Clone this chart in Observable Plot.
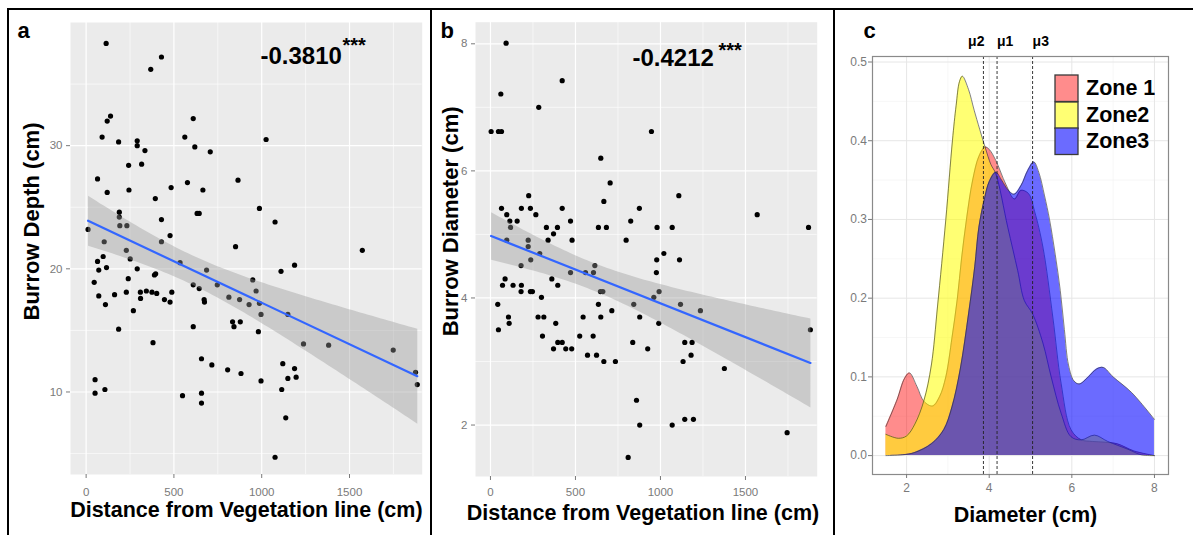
<!DOCTYPE html>
<html><head><meta charset="utf-8">
<script src="https://cdn.jsdelivr.net/npm/d3@7"></script>
<script src="https://cdn.jsdelivr.net/npm/@observablehq/plot@0.6"></script>
<style>
body{margin:0;background:#fff;}
#fig{position:relative;width:1193px;height:535px;overflow:hidden;background:#fff;font-family:"Liberation Sans",Arial,sans-serif;}
#fig > svg{position:absolute;top:0;}
.bar{position:absolute;background:#000;z-index:5;}
.zl-swatches{position:absolute !important;left:1055px;top:75px;margin:0 !important;font-family:"Liberation Sans",Arial,sans-serif !important;font-size:21.5px !important;font-weight:bold;color:#000;z-index:4;}
.zl-swatch{padding:0 !important;margin:0 !important;display:flex;align-items:center;line-height:26px;}
.zl-swatch > svg{margin-right:8px !important;overflow:visible;}
.zl-swatch > svg rect{stroke:#3a3a3a;stroke-width:1.3;}
</style></head>
<body><div id="fig"></div>
<script>
// ---------- Panel a: Burrow depth vs distance ----------
const depthX = [114,429,368,139,120,91,185,291,291,335,
  562,610,619,707,242,316,65,120,244,484,
  577,665,865,394,189,189,632,644,987,429,
  192,232,11,103,429,478,229,97,251,65,
  851,535,72,116,291,686,396,389,46,240,
  610,644,747,949,968,72,162,229,309,343,
  375,402,488,310,446,478,672,674,813,874,
  928,987,996,110,269,185,610,834,842,878,
  981,381,657,716,806,882,996,51,51,107,
  549,657,657,
  1025,1076,1573,1187,1110,1149,1238,1381,1749,1120,
  1187,1149,1196,1114,1876,1886,1137,1076];
const depthY = [38.3,37.2,36.2,32.4,32.0,30.7,30.3,30.4,30.0,29.6,
  30.7,32.2,29.9,29.5,28.4,28.5,27.3,26.2,26.4,26.6,
  27.0,26.4,27.2,25.7,24.6,24.2,24.5,24.5,24.9,24.0,
  23.5,23.5,23.2,22.2,22.2,22.7,21.5,21.0,20.8,20.6,
  21.8,20.5,19.9,20.1,20.0,19.9,19.6,19.5,18.9,19.2,
  18.7,18.4,18.7,19.1,18.2,17.8,17.9,18.1,18.1,18.2,
  18.1,18.0,18.1,17.6,17.5,17.3,17.5,17.3,17.7,17.5,
  17.1,17.2,16.3,17.1,16.6,15.1,15.3,15.7,15.3,15.7,
  14.9,14.0,12.7,12.2,11.8,11.5,10.9,11.0,9.9,10.2,
  9.7,9.9,9.1,
  30.5,23.8,21.5,20.3,19.8,16.3,13.9,13.8,13.4,12.3,
  11.9,11.1,11.2,10.2,11.6,10.6,7.9,4.7];

// ---------- Panel b: Burrow diameter vs distance ----------
const diamX = [92,61,422,284,4,47,65,947,649,704,
  667,876,225,65,182,235,422,96,267,114,
  157,118,329,394,471,635,682,825,980,96,
  222,339,371,480,798,222,290,237,1020,978,
  180,614,976,559,606,471,361,86,396,71,
  133,182,180,235,247,647,661,992,300,961,
  43,635,843,714,106,280,314,545,649,878,
  110,384,990,47,306,525,604,837,396,422,
  371,443,478,925,571,624,667,735,859,878,
  810,
  1108,1069,1112,1569,1871,1118,1235,1143,1186,1180,
  1133,1376,1882,1069,1143,1194,1745];
const diamY = [8.01,7.21,7.42,7.00,6.62,6.62,6.62,6.62,6.20,5.81,
  5.52,5.41,5.61,5.41,5.41,5.41,5.41,5.31,5.31,5.21,
  5.21,5.11,5.11,5.11,5.21,5.11,5.11,5.21,5.11,4.91,
  4.91,4.91,5.01,4.91,4.91,4.81,4.70,4.60,4.70,4.60,
  4.51,4.51,4.40,4.40,4.40,4.40,4.30,4.30,4.20,4.20,
  4.20,4.20,4.10,4.10,4.10,4.10,4.10,4.10,4.01,4.01,
  3.90,3.90,3.90,3.80,3.70,3.70,3.70,3.70,3.70,3.70,
  3.60,3.60,3.60,3.50,3.40,3.40,3.40,3.30,3.30,3.30,
  3.20,3.20,3.20,3.20,3.10,3.10,3.00,3.00,2.39,2.00,
  1.49,
  5.61,5.11,4.60,5.31,5.11,3.90,3.80,3.30,3.30,3.10,
  3.00,2.89,3.50,2.00,2.09,2.09,1.88];

// ---------- Panel c: density of diameter by zone ----------
const zoneNames = ["Zone 1", "Zone2", "Zone3"];
const zone1X = [1.5,1.77,1.95,2.07,2.25,2.42,2.63,2.8,2.95,3.1,3.23,3.33,3.45,3.6,3.75,3.9,4.0,4.16,4.4,4.61,4.77,4.95,5.1,5.3,5.54,5.74,5.98,6.23,6.5,6.8,7.1,7.5,8.0];
const zone1Y = [0.037,0.071,0.098,0.105,0.088,0.069,0.063,0.075,0.1,0.15,0.2,0.25,0.3,0.35,0.38,0.392,0.389,0.375,0.345,0.326,0.337,0.333,0.31,0.265,0.176,0.092,0.033,0.02,0.018,0.017,0.015,0.006,0.0];
const zone2X = [1.5,1.8,2.0,2.2,2.42,2.6,2.75,2.95,3.11,3.2,3.28,3.35,3.5,3.64,3.9,4.04,4.16,4.45,4.69,4.85,5.05,5.3,5.5,5.74,5.98,6.23,6.55,6.87,7.36,7.68,8.0];
const zone2Y = [0.027,0.022,0.025,0.04,0.07,0.115,0.19,0.3,0.4,0.445,0.475,0.482,0.465,0.438,0.392,0.37,0.358,0.29,0.235,0.197,0.18,0.143,0.1,0.054,0.024,0.02,0.026,0.018,0.008,0.001,0.0];
const zone3X = [1.5,1.9,2.2,2.6,2.9,3.1,3.3,3.5,3.65,3.75,3.88,4.0,4.16,4.3,4.45,4.6,4.77,4.93,5.08,5.2,5.34,5.46,5.6,5.72,5.82,5.92,6.05,6.18,6.4,6.6,6.76,7.0,7.45,8.0];
const zone3Y = [0.0,0.001,0.004,0.015,0.033,0.062,0.11,0.18,0.24,0.29,0.325,0.348,0.36,0.35,0.338,0.332,0.343,0.362,0.373,0.36,0.33,0.3,0.255,0.21,0.16,0.115,0.095,0.091,0.1,0.11,0.112,0.1,0.08,0.046];
const muValues = [4.19, 3.86, 5.05];
const muLabels = ["μ1", "μ2", "μ3"];

// ---------- tick labels ----------
const distTicks = [0, 500, 1000, 1500];
const distMinor = [250, 750, 1250, 1750];
const depthTicks = [10, 20, 30];
const depthMinor = [5, 15, 25, 35];
const diamTicks = [2, 4, 6, 8];
const diamMinor = [3, 5, 7];
const densXTicks = [2, 4, 6, 8];
const densXMinor = [3, 5, 7];
const densYTicks = [0, 0.1, 0.2, 0.3, 0.4, 0.5];
const densYMinor = [0.05, 0.15, 0.25, 0.35, 0.45];

const FONT = "'Liberation Sans', Arial, sans-serif";
const TICK = "#7a7a7a";
const fig = document.getElementById("fig");
const intFmt = d3.format("d");

function title(t, o) {
  return Plot.text([t], Object.assign({text: d => d, fill: "black", fontWeight: "bold"}, o));
}

function scatterPanel(cfg) {
  const data = cfg.xs.map((x, i) => ({x, y: cfg.ys[i]}));
  return Plot.plot({
    width: cfg.width, height: 535,
    marginLeft: cfg.ml, marginRight: cfg.mr, marginTop: cfg.mt, marginBottom: cfg.mb,
    x: {domain: cfg.xDomain}, y: {domain: cfg.yDomain},
    style: {fontFamily: FONT, background: "transparent", overflow: "visible"},
    marks: [
      Plot.frame({fill: "#ebebeb", stroke: null}),
      Plot.gridX(distMinor, {stroke: "white", strokeOpacity: 1, strokeWidth: 0.6}),
      Plot.gridY(cfg.yMinor, {stroke: "white", strokeOpacity: 1, strokeWidth: 0.6}),
      Plot.gridX(distTicks, {stroke: "white", strokeOpacity: 1, strokeWidth: 1.2}),
      Plot.gridY(cfg.yTicks, {stroke: "white", strokeOpacity: 1, strokeWidth: 1.2}),
      Plot.axisX(distTicks, {tickSize: 4, tickPadding: cfg.xPad, fontSize: 11.5, color: TICK, label: null, tickFormat: intFmt}),
      Plot.axisY(cfg.yTicks, {tickSize: 4, tickPadding: 4, fontSize: 11.5, color: TICK, label: null, tickFormat: intFmt}),
      Plot.dot(data, {x: "x", y: "y", r: 2.6, fill: "black", stroke: null}),
      Plot.linearRegressionY(data, {x: "x", y: "y", stroke: "#3366FF", strokeWidth: 2.2, fill: "#999999", fillOpacity: 0.4}),
      title(cfg.letter, {frameAnchor: "top-left", dx: cfg.letterDx, dy: cfg.letterDy, fontSize: 22, textAnchor: "start", lineAnchor: "bottom"}),
      title(cfg.corr, {frameAnchor: "top-left", dx: cfg.corrDx, dy: cfg.corrDy, fontSize: 24, textAnchor: "start", lineAnchor: "bottom"}),
      title("***", {frameAnchor: "top-left", dx: cfg.starDx, dy: cfg.starDy, fontSize: 20, textAnchor: "start", lineAnchor: "bottom"}),
      title(cfg.yLabel, {frameAnchor: "left", rotate: -90, dx: cfg.yLabDx, dy: cfg.yLabDy, fontSize: 22, textAnchor: "middle", lineAnchor: "middle"}),
      title(cfg.xLabel, {frameAnchor: "bottom", dx: cfg.xLabDx, dy: cfg.xLabDy, fontSize: 21.5, textAnchor: "middle", lineAnchor: "bottom"})
    ]
  });
}

const svgA = scatterPanel({
  xs: depthX, ys: depthY, width: 430, ml: 70, mr: 8.3, mt: 22, mb: 61,
  xDomain: [-89, 1914], yDomain: [3.3, 40], yTicks: depthTicks, yMinor: depthMinor, xPad: 9,
  letter: "a", letterDx: -53, letterDy: 15,
  corr: "-0.3810", corrDx: 190, corrDy: 41,
  starDx: 272, starDy: 29,
  yLabel: "Burrow Depth (cm)", yLabDx: -39, yLabDy: -27,
  xLabel: "Distance from Vegetation line (cm)", xLabDx: 0, xLabDy: 42
});
svgA.style.left = "0px";
fig.appendChild(svgA);

const svgB = scatterPanel({
  xs: diamX, ys: diamY, width: 401, ml: 43, mr: 16.3, mt: 21.7, mb: 59,
  xDomain: [-88, 1922], yDomain: [1.19, 8.34], yTicks: diamTicks, yMinor: diamMinor, xPad: 7,
  letter: "b", letterDx: -35, letterDy: 15.3,
  corr: "-0.4212", corrDx: 157, corrDy: 43.3,
  starDx: 243, starDy: 35,
  yLabel: "Burrow Diameter (cm)", yLabDx: -25, yLabDy: -28,
  xLabel: "Distance from Vegetation line (cm)", xLabDx: -3.4, xLabDy: 43
});
svgB.style.left = "432px";
fig.appendChild(svgB);

// ---------- Panel c ----------
const zoneFill = ["#ff0000", "#ffff00", "#0000ff"];
const zoneOpacity = [0.45, 0.55, 0.58];
const zoneKeyColors = ["#ff8c8c", "#ffff73", "#6b6bff"];
const zones = [[zone1X, zone1Y], [zone2X, zone2Y], [zone3X, zone3Y]].map(([xs, ys]) => xs.map((x, i) => ({x, y: ys[i]})));
const muData = muValues.map((m, i) => ({m, label: muLabels[i]}));

const areaMarks = [];
zones.forEach((z, i) => {
  areaMarks.push(Plot.areaY(z, {x: "x", y: "y", fill: zoneFill[i], fillOpacity: zoneOpacity[i], curve: "catmull-rom"}));
  areaMarks.push(Plot.lineY(z, {x: "x", y: "y", stroke: "#2a2a2a", strokeWidth: 0.7, strokeOpacity: 0.85, curve: "catmull-rom"}));
});

const svgC = Plot.plot({
  width: 358, height: 535, marginLeft: 37, marginRight: 25, marginTop: 56, marginBottom: 61,
  x: {domain: [1.175, 8.34]}, y: {domain: [-0.024, 0.507]},
  style: {fontFamily: FONT, background: "transparent", overflow: "visible"},
  marks: [
    Plot.frame({fill: "white", stroke: null}),
    Plot.gridX(densXMinor, {stroke: "#f2f2f2", strokeOpacity: 1, strokeWidth: 0.6}),
    Plot.gridY(densYMinor, {stroke: "#f2f2f2", strokeOpacity: 1, strokeWidth: 0.6}),
    Plot.gridX(densXTicks, {stroke: "#e6e6e6", strokeOpacity: 1, strokeWidth: 1}),
    Plot.gridY(densYTicks, {stroke: "#e6e6e6", strokeOpacity: 1, strokeWidth: 1}),
    ...areaMarks,
    Plot.ruleX(muData, {x: "m", stroke: "#222", strokeWidth: 0.9, strokeDasharray: "3,2"}),
    Plot.frame({stroke: "#8a8a8a", strokeWidth: 1.2}),
    Plot.axisX(densXTicks, {tickSize: 4, tickPadding: 4.5, fontSize: 12, color: TICK, label: null, tickFormat: intFmt}),
    Plot.axisY(densYTicks, {tickSize: 4, tickPadding: 1.5, fontSize: 12, color: TICK, label: null, tickFormat: d3.format(".1f")}),
    Plot.text(muData, {filter: d => d.label === "μ2", x: "m", text: "label", frameAnchor: "top", dy: -11, dx: 1, textAnchor: "end", lineAnchor: "bottom", fontSize: 14, fontWeight: "bold", fill: "black"}),
    Plot.text(muData, {filter: d => d.label !== "μ2", x: "m", text: "label", frameAnchor: "top", dy: -11, dx: 0, textAnchor: "start", lineAnchor: "bottom", fontSize: 14, fontWeight: "bold", fill: "black"}),
    title("c", {frameAnchor: "top-left", dx: -9, dy: -19, fontSize: 22, textAnchor: "start", lineAnchor: "bottom"}),
    title("Diameter (cm)", {frameAnchor: "bottom", dx: 5, dy: 47, fontSize: 21.5, textAnchor: "middle", lineAnchor: "bottom"})
  ]
});
svgC.style.left = "835px";
fig.appendChild(svgC);

const legend = Plot.legend({
  color: {type: "categorical", domain: zoneNames, range: zoneKeyColors},
  legend: "swatches", columns: 1, swatchWidth: 23, swatchHeight: 26.5, className: "zl"
});
fig.appendChild(legend);

// ---------- panel borders ----------
[[7, 8, 1186, 2], [7, 8, 2, 527], [430, 8, 2, 527], [833, 8, 2, 527]].forEach(([l, t, w, h]) => {
  const d = document.createElement("div");
  d.className = "bar";
  Object.assign(d.style, {left: l + "px", top: t + "px", width: w + "px", height: h + "px"});
  fig.appendChild(d);
});
</script></body></html>
